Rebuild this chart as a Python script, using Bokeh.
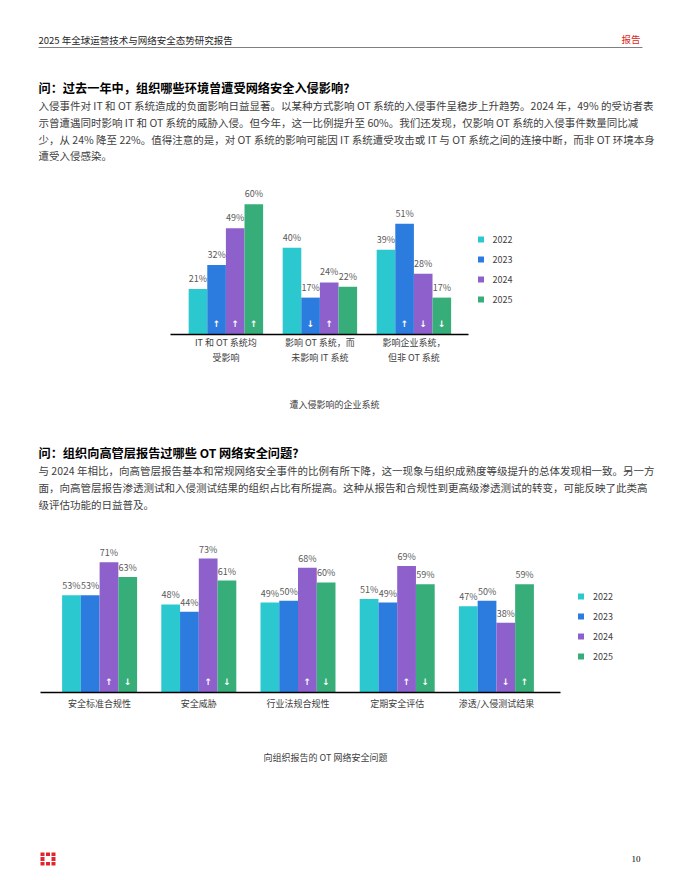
from bokeh.plotting import figure
from bokeh.models import (ColumnDataSource, Range1d, Label, Legend, LegendItem,
                          LinearAxis, FixedTicker)
from bokeh.transform import dodge
from bokeh.core.properties import value
from bokeh.embed import file_html
from bokeh.resources import INLINE

FONT = "Noto Sans CJK SC"
W, H = 672, 872

# ---------------- data ----------------
years = ["2022", "2023", "2024", "2025"]
colors = ["#2BC8CF", "#2C7BDE", "#8D60CC", "#37AD7A"]

c1_cats = ["IT 和 OT 系统均\n受影响", "影响 OT 系统，而\n未影响 IT 系统", "影响企业系统，\n但非 OT 系统"]
c1_2022 = [21, 40, 39]
c1_2023 = [32, 17, 51]
c1_2024 = [49, 24, 28]
c1_2025 = [60, 22, 17]
c1_arr_2022 = ["", "", ""]
c1_arr_2023 = ["up", "down", "up"]
c1_arr_2024 = ["up", "up", "down"]
c1_arr_2025 = ["up", "", "down"]

c2_cats = ["安全标准合规性", "安全威胁", "行业法规合规性", "定期安全评估", "渗透/入侵测试结果"]
c2_2022 = [53, 48, 49, 51, 47]
c2_2023 = [53, 44, 50, 49, 50]
c2_2024 = [71, 73, 68, 69, 38]
c2_2025 = [63, 61, 60, 59, 59]
c2_arr_2022 = ["", "", "", "", ""]
c2_arr_2023 = ["", "", "", "", ""]
c2_arr_2024 = ["up", "up", "up", "up", "down"]
c2_arr_2025 = ["down", "down", "down", "down", "up"]

header_left = "2025 年全球运营技术与网络安全态势研究报告"
header_right = "报告"
title1 = "问：过去一年中，组织哪些环境曾遭受网络安全入侵影响?"
para1 = [
    "入侵事件对 IT 和 OT 系统造成的负面影响日益显著。以某种方式影响 OT 系统的入侵事件呈稳步上升趋势。2024 年，49% 的受访者表",
    "示曾遭遇同时影响 IT 和 OT 系统的威胁入侵。但今年，这一比例提升至 60%。我们还发现，仅影响 OT 系统的入侵事件数量同比减",
    "少，从 24% 降至 22%。值得注意的是，对 OT 系统的影响可能因 IT 系统遭受攻击或 IT 与 OT 系统之间的连接中断，而非 OT 环境本身",
    "遭受入侵感染。",
]
caption1 = "遭入侵影响的企业系统"
title2 = "问：组织向高管层报告过哪些 OT 网络安全问题?"
para2 = [
    "与 2024 年相比，向高管层报告基本和常规网络安全事件的比例有所下降，这一现象与组织成熟度等级提升的总体发现相一致。另一方",
    "面，向高管层报告渗透测试和入侵测试结果的组织占比有所提高。这种从报告和合规性到更高级渗透测试的转变，可能反映了此类高",
    "级评估功能的日益普及。",
]
caption2 = "向组织报告的 OT 网络安全问题"
page_no = "10"

ARROW = {"up": "↑", "down": "↓", "": ""}

# ---------------- page figure (page pixel coordinates) ----------------
p = figure(width=W, height=H, x_range=Range1d(0, W), y_range=Range1d(H, 0),
           x_axis_location=None, y_axis_location=None, min_border=0,
           toolbar_location=None, output_backend="svg")
p.outline_line_color = None
p.grid.visible = False
p.background_fill_color = "white"
p.border_fill_color = "white"


def add_text(x, y, txt, size, color, bold=False, align="left", font=FONT):
    p.add_layout(Label(x=x, y=y, text=txt, text_font=font, text_font_size=f"{size}px",
                       text_color=color, text_font_style="bold" if bold else "normal",
                       text_align=align, text_baseline="middle"))


def bar_chart(name, cats, series, arrows, x0, unit, base, pxper, bw, axis_px, leg_px,
              lab_off, arr_off, standoff):
    # x0: pixel of first category centre, unit: pixels per category
    # base: pixel row of the zero line, pxper: pixels per percent
    xs = -x0 / unit
    p.extra_x_ranges[name + "x"] = Range1d(xs, xs + W / unit)
    ys = -(H - base) / pxper
    p.extra_y_ranges[name + "y"] = Range1d(ys, ys + H / pxper)
    rn = dict(x_range_name=name + "x", y_range_name=name + "y")

    data = dict(idx=list(range(len(cats))))
    for i, s in enumerate(series):
        data[f"y{i}"] = s
        data[f"l{i}"] = [f"{v}%" for v in s]
        data[f"a{i}"] = [ARROW[a] for a in arrows[i]]
    src = ColumnDataSource(data)
    offs = [-1.5 * bw, -0.5 * bw, 0.5 * bw, 1.5 * bw]
    for i in range(4):
        xd = dodge("idx", offs[i])
        p.vbar(x=xd, top=f"y{i}", width=bw, fill_color=colors[i], line_color=None,
               source=src, **rn)
        p.text(x=xd, y=f"y{i}", text=f"l{i}", source=src, y_offset=-lab_off,
               text_align="center", text_baseline="middle", text_font=value(FONT),
               text_font_size="9px", text_color="#595959", **rn)
        p.text(x=xd, y=0, text=f"a{i}", source=src, y_offset=-arr_off,
               text_align="center", text_baseline="middle", text_font=value("DejaVu Sans"),
               text_font_style="bold", text_font_size="9px", text_color="white", **rn)

    ax = LinearAxis(fixed_location=0, ticker=FixedTicker(ticks=list(range(len(cats)))),
                    major_label_overrides={i: c for i, c in enumerate(cats)},
                    bounds=((axis_px[0] - x0) / unit, (axis_px[1] - x0) / unit), **rn)
    ax.axis_line_color = "black"
    ax.axis_line_width = 1.3
    ax.major_tick_line_color = None
    ax.minor_tick_line_color = None
    ax.major_tick_out = 0
    ax.major_tick_in = 0
    ax.minor_tick_out = 0
    ax.major_label_text_font = FONT
    ax.major_label_text_font_size = "9px"
    ax.major_label_text_color = "#404040"
    ax.major_label_standoff = standoff
    p.add_layout(ax, "below")

    # legend swatches: renderers with a single non-drawable (NaN) point
    rs = [p.scatter(x=[float("nan")], y=[float("nan")], marker="square", size=6,
                    fill_color=c, line_color=None, **rn) for c in colors]
    leg = Legend(items=[LegendItem(label=y, renderers=[r]) for y, r in zip(years, rs)],
                 location=(leg_px[0], H - leg_px[1]), orientation="vertical",
                 glyph_width=15, glyph_height=20, label_height=20, spacing=0, padding=0,
                 margin=0, label_standoff=5, border_line_color=None, background_fill_alpha=0,
                 label_text_font=FONT, label_text_font_size="9px", label_text_color="#404040")
    p.add_layout(leg, "center")


# ---------------- header & text ----------------
add_text(38, 39, header_left, 9.5, "#262626")
add_text(640, 38, header_right, 9.5, "#DA291C", align="right")
p.segment(x0=[38], y0=[47], x1=[642], y1=[47], line_color="#808080", line_width=1)
add_text(38, 87, title1, 12.2, "#000000", bold=True)
for t, yy in zip(para1, [105, 122, 139, 155]):
    add_text(38, yy, t, 10.5, "#404040")

# ---------------- chart 1 ----------------
bar_chart("c1", c1_cats, [c1_2022, c1_2023, c1_2024, c1_2025],
          [c1_arr_2022, c1_arr_2023, c1_arr_2024, c1_arr_2025],
          x0=225.4, unit=94.0, base=334, pxper=2.17, bw=0.198,
          axis_px=(170, 468), leg_px=(472.5, 309), lab_off=10.5, arr_off=11, standoff=1)
add_text(334, 404, caption1, 9, "#404040", align="center")

# ---------------- second block ----------------
add_text(38, 452, title2, 12.2, "#000000", bold=True)
for t, yy in zip(para2, [470, 487, 504]):
    add_text(38, yy, t, 10.5, "#404040")

bar_chart("c2", c2_cats, [c2_2022, c2_2023, c2_2024, c2_2025],
          [c2_arr_2022, c2_arr_2023, c2_arr_2024, c2_arr_2025],
          x0=99.1, unit=99.2, base=692, pxper=1.835, bw=0.189,
          axis_px=(40, 560), leg_px=(573, 666), lab_off=9.5, arr_off=11, standoff=4)
add_text(325, 757, caption2, 9, "#404040", align="center")

# ---------------- footer ----------------
red = "#E0262C"
p.quad(left=[40, 45.5, 51, 40, 51, 40, 45.5, 51], right=[44, 49.5, 55, 44, 55, 44, 49.5, 55],
       top=[852, 852, 852, 856.5, 856.5, 861.5, 861.5, 861.5],
       bottom=[855.5, 855.5, 855.5, 860.5, 860.5, 865, 865, 865],
       fill_color=red, line_color=None)
add_text(640, 858, page_no, 9, "#000000", align="right", font="Liberation Serif")

open("out.html", "w").write(file_html(p, INLINE))
